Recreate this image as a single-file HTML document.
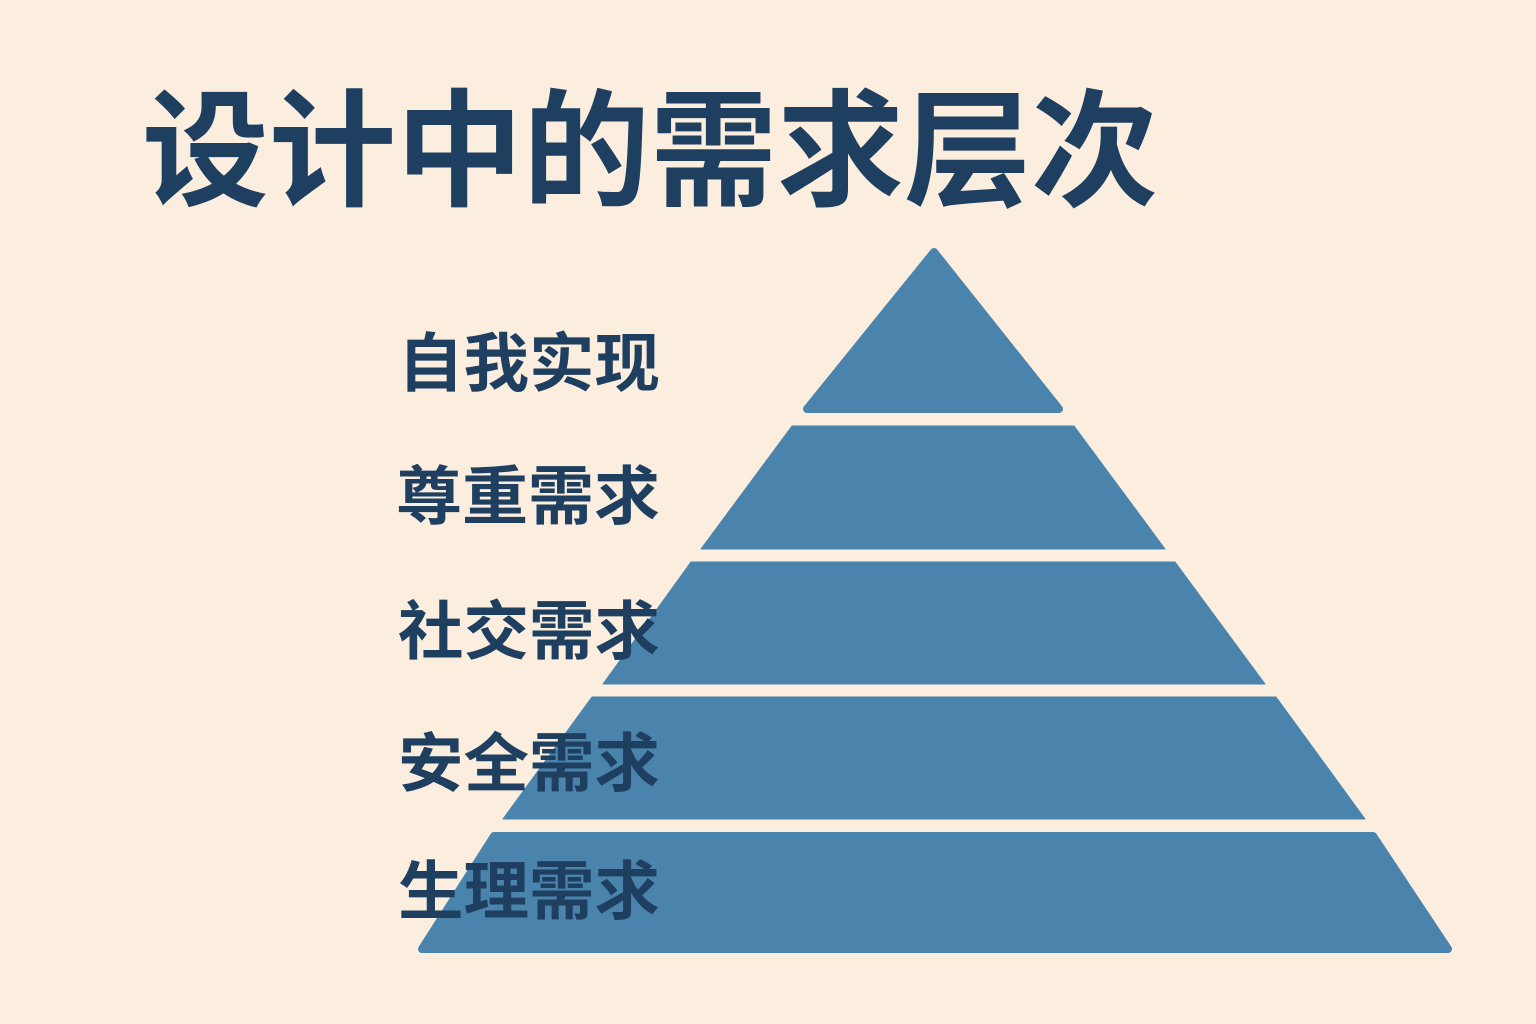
<!DOCTYPE html>
<html><head><meta charset="utf-8"><style>
html,body{margin:0;padding:0;width:1536px;height:1024px;background:#fbeedf;overflow:hidden}
svg{display:block}
</style></head><body>
<svg width="1536" height="1024" viewBox="0 0 1536 1024" xmlns="http://www.w3.org/2000/svg">
<rect width="1536" height="1024" fill="#fbeedf"/>
<g fill="#4a84ad" stroke="#4a84ad" stroke-linejoin="round">
<path d="M934 252 L1059 409 L807 409 Z" stroke-width="8"/>
<path d="M792 426 L1074 426 L1165 549 L701 549 Z" stroke-width="1"/>
<path d="M691 562 L1175 562 L1265 684 L603 684 Z" stroke-width="1"/>
<path d="M592 697 L1276 697 L1365 819 L503 819 Z" stroke-width="1"/>
<path d="M494 836 L1373 836 L1448 949 L422 949 Z" stroke-width="8"/>
</g>
<g font-family="'Liberation Sans','Noto Sans CJK SC',sans-serif" font-weight="bold" fill="#1e3f5f">
<text x="142" y="196" font-size="127" textLength="1016" lengthAdjust="spacingAndGlyphs">设计中的需求层次</text>
<g font-size="64">
<text x="398" y="386" textLength="262" lengthAdjust="spacingAndGlyphs">自我实现</text>
<text x="396" y="519" textLength="264" lengthAdjust="spacingAndGlyphs">尊重需求</text>
<text x="398" y="654" textLength="262" lengthAdjust="spacingAndGlyphs">社交需求</text>
<text x="398" y="786" textLength="262" lengthAdjust="spacingAndGlyphs">安全需求</text>
<text x="398" y="914" textLength="262" lengthAdjust="spacingAndGlyphs">生理需求</text>
</g>
</g>
</svg>
</body></html>
